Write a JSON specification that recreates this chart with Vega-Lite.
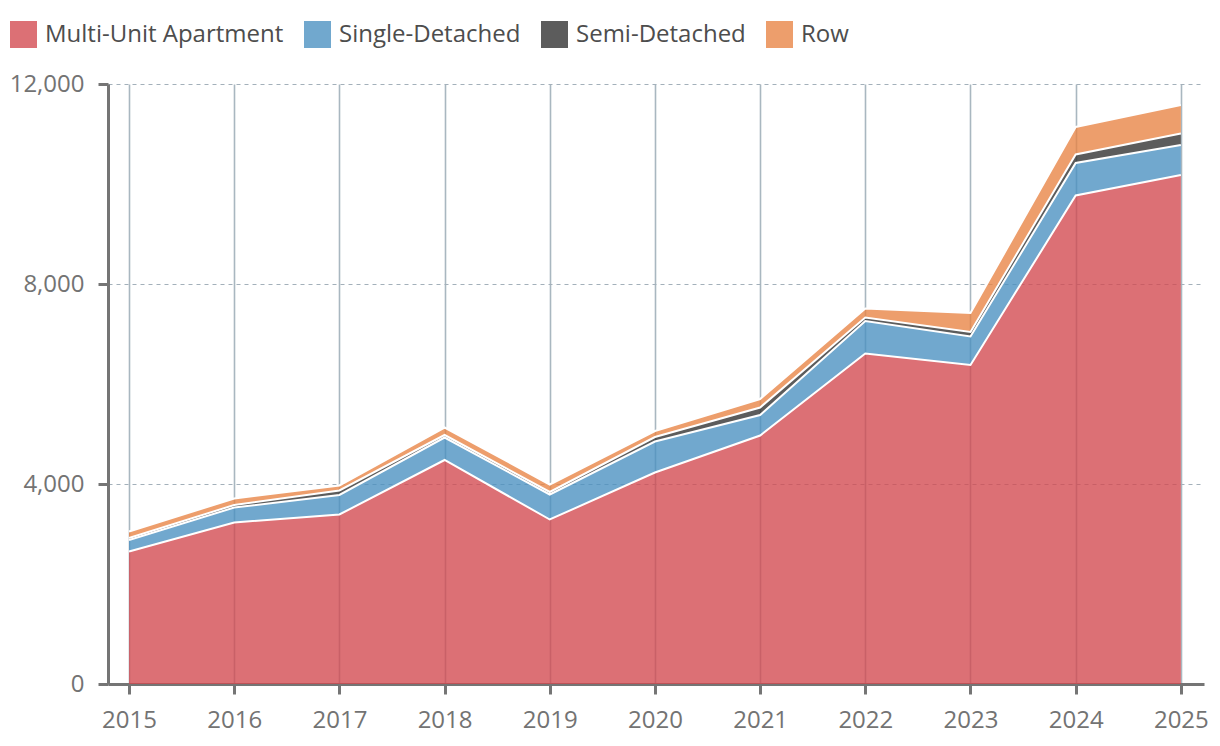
{
  "$schema": "https://vega.github.io/schema/vega-lite/v6.json",
  "width": 1096,
  "height": 600,
  "autosize": {"type": "none"},
  "padding": {"left": 108, "top": 84, "right": 16, "bottom": 62},
  "background": "white",
  "config": {"view": {"stroke": null}, "font": "Open Sans"},
  "data": {
    "values": [
      {"year": 2015, "type": "Multi-Unit Apartment", "rank": 1, "value": 2650},
      {"year": 2016, "type": "Multi-Unit Apartment", "rank": 1, "value": 3230},
      {"year": 2017, "type": "Multi-Unit Apartment", "rank": 1, "value": 3390},
      {"year": 2018, "type": "Multi-Unit Apartment", "rank": 1, "value": 4480},
      {"year": 2019, "type": "Multi-Unit Apartment", "rank": 1, "value": 3290},
      {"year": 2020, "type": "Multi-Unit Apartment", "rank": 1, "value": 4230},
      {"year": 2021, "type": "Multi-Unit Apartment", "rank": 1, "value": 4970},
      {"year": 2022, "type": "Multi-Unit Apartment", "rank": 1, "value": 6610},
      {"year": 2023, "type": "Multi-Unit Apartment", "rank": 1, "value": 6380},
      {"year": 2024, "type": "Multi-Unit Apartment", "rank": 1, "value": 9770},
      {"year": 2025, "type": "Multi-Unit Apartment", "rank": 1, "value": 10180},
      {"year": 2015, "type": "Single-Detached", "rank": 2, "value": 230},
      {"year": 2016, "type": "Single-Detached", "rank": 2, "value": 300},
      {"year": 2017, "type": "Single-Detached", "rank": 2, "value": 390},
      {"year": 2018, "type": "Single-Detached", "rank": 2, "value": 450},
      {"year": 2019, "type": "Single-Detached", "rank": 2, "value": 500},
      {"year": 2020, "type": "Single-Detached", "rank": 2, "value": 620},
      {"year": 2021, "type": "Single-Detached", "rank": 2, "value": 410},
      {"year": 2022, "type": "Single-Detached", "rank": 2, "value": 650},
      {"year": 2023, "type": "Single-Detached", "rank": 2, "value": 570},
      {"year": 2024, "type": "Single-Detached", "rank": 2, "value": 650},
      {"year": 2025, "type": "Single-Detached", "rank": 2, "value": 600},
      {"year": 2015, "type": "Semi-Detached", "rank": 3, "value": 40},
      {"year": 2016, "type": "Semi-Detached", "rank": 3, "value": 50},
      {"year": 2017, "type": "Semi-Detached", "rank": 3, "value": 90},
      {"year": 2018, "type": "Semi-Detached", "rank": 3, "value": 50},
      {"year": 2019, "type": "Semi-Detached", "rank": 3, "value": 50},
      {"year": 2020, "type": "Semi-Detached", "rank": 3, "value": 90},
      {"year": 2021, "type": "Semi-Detached", "rank": 3, "value": 150},
      {"year": 2022, "type": "Semi-Detached", "rank": 3, "value": 70},
      {"year": 2023, "type": "Semi-Detached", "rank": 3, "value": 90},
      {"year": 2024, "type": "Semi-Detached", "rank": 3, "value": 170},
      {"year": 2025, "type": "Semi-Detached", "rank": 3, "value": 230},
      {"year": 2015, "type": "Row", "rank": 4, "value": 130},
      {"year": 2016, "type": "Row", "rank": 4, "value": 130},
      {"year": 2017, "type": "Row", "rank": 4, "value": 100},
      {"year": 2018, "type": "Row", "rank": 4, "value": 150},
      {"year": 2019, "type": "Row", "rank": 4, "value": 150},
      {"year": 2020, "type": "Row", "rank": 4, "value": 120},
      {"year": 2021, "type": "Row", "rank": 4, "value": 170},
      {"year": 2022, "type": "Row", "rank": 4, "value": 180},
      {"year": 2023, "type": "Row", "rank": 4, "value": 380},
      {"year": 2024, "type": "Row", "rank": 4, "value": 550},
      {"year": 2025, "type": "Row", "rank": 4, "value": 570}
    ]
  },
  "mark": {"type": "area", "fillOpacity": 0.78, "line": {"stroke": "white", "strokeWidth": 2}},
  "encoding": {
    "x": {
      "field": "year",
      "type": "quantitative",
      "scale": {"domain": [2014.8, 2025.22], "nice": false, "zero": false},
      "axis": {
        "values": [2015, 2016, 2017, 2018, 2019, 2020, 2021, 2022, 2023, 2024, 2025],
        "format": "d",
        "title": null,
        "grid": true,
        "gridColor": "#a9b7c0",
        "gridWidth": 1.6,
        "domainColor": "#757575",
        "domainWidth": 3,
        "tickColor": "#757575",
        "tickWidth": 3,
        "tickSize": 10,
        "labelFontSize": 24,
        "labelColor": "#737373",
        "labelPadding": 14,
        "labelFont": "Open Sans"
      }
    },
    "y": {
      "field": "value",
      "type": "quantitative",
      "stack": "zero",
      "scale": {"domain": [0, 12000], "nice": false},
      "axis": {
        "values": [0, 4000, 8000, 12000],
        "format": ",.0f",
        "title": null,
        "grid": true,
        "gridColor": "#a3b0ba",
        "gridWidth": 1.2,
        "gridDash": [4, 4],
        "domainColor": "#757575",
        "domainWidth": 3,
        "tickColor": "#757575",
        "tickWidth": 3,
        "tickSize": 10,
        "labelFontSize": 24,
        "labelColor": "#737373",
        "labelPadding": 14,
        "labelFont": "Open Sans"
      }
    },
    "color": {
      "field": "type",
      "type": "nominal",
      "scale": {
        "domain": ["Multi-Unit Apartment", "Single-Detached", "Semi-Detached", "Row"],
        "range": ["#d2484e", "#4990c0", "#2e2e2e", "#e88343"]
      },
      "legend": {
        "title": null,
        "orient": "none",
        "legendX": -98,
        "legendY": -63,
        "direction": "horizontal",
        "symbolType": "square",
        "symbolSize": 729,
        "symbolOpacity": 0.78,
        "symbolStrokeWidth": 0,
        "labelFontSize": 24,
        "labelFont": "Open Sans",
        "labelColor": "#4d4d4d",
        "labelLimit": 500,
        "labelOffset": 8,
        "columnPadding": 20,
        "padding": 0
      }
    },
    "order": {"field": "rank", "type": "quantitative"}
  }
}
